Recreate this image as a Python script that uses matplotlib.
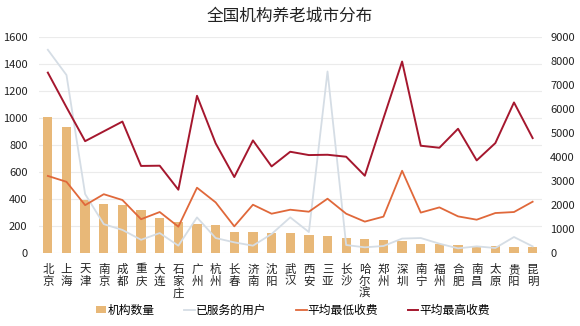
import matplotlib
matplotlib.use("Agg")
import matplotlib.pyplot as plt
import numpy as np

plt.rcParams['font.family'] = ['Noto Sans CJK SC', 'DejaVu Sans']

cities = ['北京', '上海', '天津', '南京', '成都', '重庆', '大连', '石家庄', '广州', '杭州',
          '长春', '济南', '沈阳', '武汉', '西安', '三亚', '长沙', '哈尔滨', '郑州', '深圳',
          '南宁', '福州', '合肥', '南昌', '太原', '贵阳', '昆明']
org_count = [1003, 930, 390, 362, 355, 318, 260, 230, 212, 207,
             153, 153, 150, 150, 130, 125, 113, 103, 98, 91,
             70, 68, 60, 50, 50, 45, 45]
users_served = [8450, 7400, 2450, 1200, 960, 550, 830, 305, 1480, 623,
                443, 305, 789, 1482, 872, 7548, 332, 236, 291, 600,
                623, 388, 194, 277, 208, 665, 277]
min_fee = [3205, 2960, 1990, 2445, 2203, 1405, 1704, 1094, 2715, 2105,
           1108, 2008, 1634, 1800, 1717, 2258, 1634, 1305, 1512, 3420,
           1680, 1897, 1523, 1385, 1662, 1704, 2133]
max_fee = [7500, 6060, 4650, 5058, 5465, 3620, 3630, 2632, 6537, 4560,
           3158, 4681, 3601, 4210, 4072, 4085, 4003, 3213, 5600, 7960,
           4460, 4377, 5166, 3850, 4570, 6260, 4778]

left_ticks = [0, 200, 400, 600, 800, 1000, 1200, 1400, 1600]
right_ticks = [0, 1000, 2000, 3000, 4000, 5000, 6000, 7000, 8000, 9000]

fig = plt.figure(figsize=(5.8, 3.26), dpi=100)
ax = fig.add_axes([0.0664, 0.2239, 0.868, 0.664])
ax2 = ax.twinx()

x = np.arange(len(cities))
bars = ax.bar(x, org_count, width=0.5, color='#E8B878', zorder=2, label='机构数量')
ax.set_ylim(0, 1600)
ax.set_yticks(left_ticks)
ax.set_xlim(-0.5, len(cities) - 0.5)
ax.grid(axis='y', color='#EBEBEB', linewidth=0.8, zorder=0)
ax.set_axisbelow(True)

l1, = ax2.plot(x, users_served, color='#D5DDE5', linewidth=1.3, label='已服务的用户')
l2, = ax2.plot(x, min_fee, color='#E0683A', linewidth=1.3, label='平均最低收费')
l3, = ax2.plot(x, max_fee, color='#A5172E', linewidth=1.4, label='平均最高收费')
ax2.set_ylim(0, 9000)
ax2.set_yticks(right_ticks)

for a in (ax, ax2):
    for s in a.spines.values():
        s.set_visible(False)
    a.tick_params(length=0, labelsize=8, colors='#222222')
ax.tick_params(axis='y', pad=8)
ax2.tick_params(axis='y', pad=6)

ax.set_xticks(x)
ax.set_xticklabels(['\n'.join(c) for c in cities], fontsize=8.3, linespacing=0.88, va='top')
ax.tick_params(axis='x', pad=7)

fig.suptitle('全国机构养老城市分布', x=0.5, y=0.975, fontsize=12, color='#222222')

fig.legend(handles=[bars, l1, l2, l3], loc='center', bbox_to_anchor=(0.505, 0.048),
           ncol=4, frameon=False, fontsize=8.5, handlelength=0.9, handletextpad=0.1,
           columnspacing=2.5, handleheight=0.5)

fig.savefig('out.png', dpi=100)
